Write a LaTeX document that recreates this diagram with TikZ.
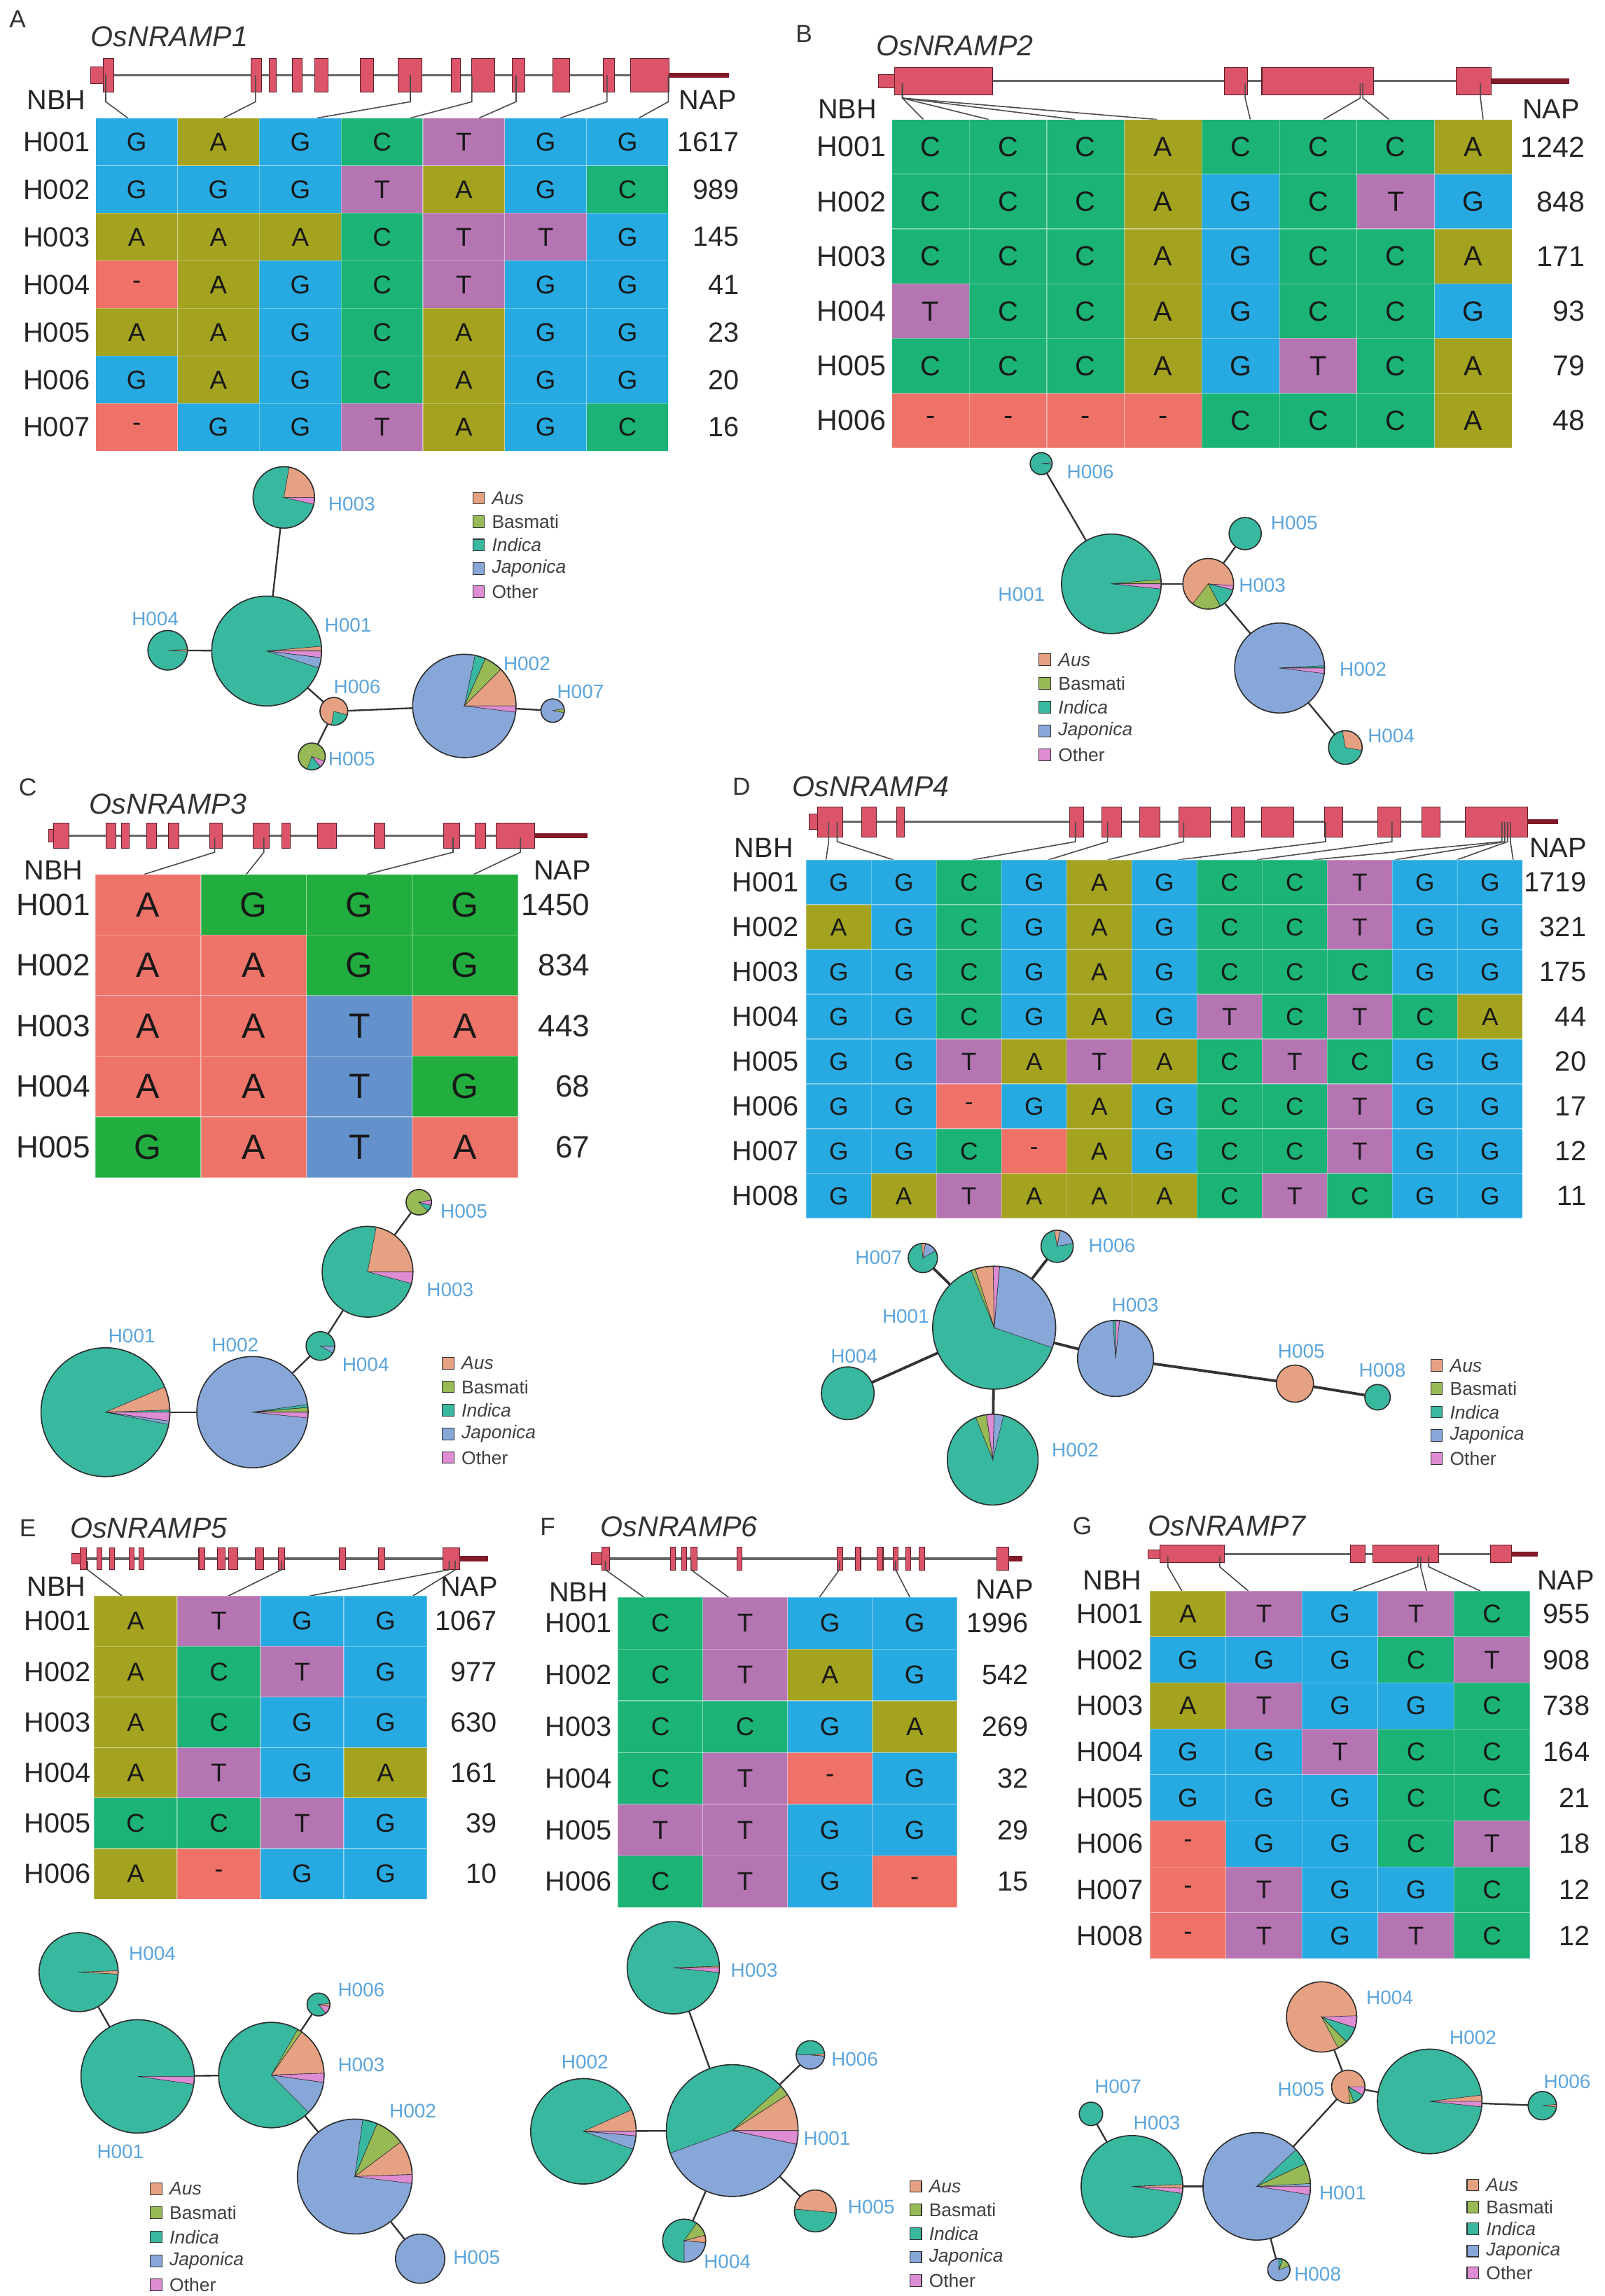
\documentclass[tikz,border=0pt]{standalone}
\usepackage{fontspec}
\setmainfont{Liberation Sans}
\usetikzlibrary{calc}

\definecolor{ntG}{RGB}{39,170,225}
\definecolor{ntA}{RGB}{164,163,32}
\definecolor{ntC}{RGB}{27,179,118}
\definecolor{ntT}{RGB}{181,117,179}
\definecolor{ntgap}{RGB}{239,114,104}
\definecolor{mkA}{RGB}{238,115,105}
\definecolor{mkG}{RGB}{34,174,62}
\definecolor{mkT}{RGB}{99,145,204}
\definecolor{colAus}{RGB}{229,161,130}
\definecolor{colBas}{RGB}{152,186,86}
\definecolor{colInd}{RGB}{57,184,160}
\definecolor{colJap}{RGB}{135,167,216}
\definecolor{colOth}{RGB}{222,140,212}
\definecolor{netblue}{RGB}{92,165,220}
\definecolor{exonred}{RGB}{219,84,105}
\definecolor{exonline}{RGB}{95,30,40}
\definecolor{utrdark}{RGB}{130,25,40}
\definecolor{pieedge}{RGB}{45,45,45}

\tikzset{
  p1 A/.style={fill=ntA}, p1 C/.style={fill=ntC}, p1 G/.style={fill=ntG},
  p1 T/.style={fill=ntT}, p1 -/.style={fill=ntgap},
  p3 A/.style={fill=mkA}, p3 G/.style={fill=mkG}, p3 T/.style={fill=mkT},
  cellline/.style={draw=white, draw opacity=0.3, line width=0.8pt},
  ntext/.style={font=\fontsize{25}{25}\selectfont, text=black!90, inner sep=0pt},
  rowlab/.style={font=\fontsize{27}{27}\selectfont, text=black!85, inner sep=0pt},
  tag/.style={font=\fontsize{24}{24}\selectfont, text=black!80, inner sep=0pt},
  genename/.style={font=\fontsize{28}{28}\selectfont\itshape, text=black!80, anchor=west, inner sep=0pt},
  intron/.style={draw=black!60, line width=2.2pt},
  utrend/.style={draw=utrdark, line width=5pt},
  exon/.style={fill=exonred, draw=exonline, line width=0.7pt},
  snpline/.style={draw=black!70, line width=1.1pt},
  hapnode/.style={circle, inner sep=0pt, outer sep=0pt},
  hapedge/.style={draw=black!80, line width=1.6pt},
  haplab/.style={font=\fontsize{19}{19}\selectfont, text=netblue, inner sep=0pt},
  legtext/.style={font=\fontsize{18}{18}\selectfont, text=black!75, anchor=west, inner sep=0pt},
}

% gene: start, end, y, 3' start, exon half height, 5' box end, exons
\newcommand{\genemodel}[7]{%
  \draw[intron] (#1,#3) -- (#2,#3);
  \draw[utrend] (#4,#3) -- (#2,#3);
  \filldraw[exon] (#1,{#3-#5/2}) rectangle (#6,{#3+#5/2});
  \foreach \xs/\xe in {#7}
    \filldraw[exon] (\xs,{#3-#5}) rectangle (\xe,{#3+#5});
}
\newcommand{\snplinks}[4]{%
  \foreach \xs/\xe in {#4}
    \draw[snpline] (\xs,#1) -- (\xs,#2) -- (\xe,#3);
}
% name, palette, x0, y0, cell w, cell h, label x, NAP x, rows
\newcommand{\snptable}[9]{%
  \foreach \row/\nap [count=\i] in {#9} {
    \foreach \snp [count=\j] in \row {
      \filldraw[#2 \snp, cellline] ({#3+(\j-1)*#5},{#4+(\i-1)*#6}) rectangle ++(#5,#6);
      \node[ntext] (#1-\i-\j) at ({#3+(\j-0.5)*#5},{#4+(\i-0.5)*#6}) {\snp};
    }
    \node[rowlab] (#1-r\i) at (#7,{#4+(\i-0.5)*#6}) {H00\i};
    \node[rowlab, anchor=east] (#1-n\i) at (#8,{#4+(\i-0.5)*#6}) {\nap};
  }%
}
\newcommand{\happie}[6]{%
  \node[hapnode, minimum size=#4 mm] (#1) at (#2,#3) {};
  \fill[#5] (#1.center) circle[radius=#4];
  \foreach \fromang/\toang/\slicecol in {#6}
    \filldraw[fill=\slicecol, draw=pieedge, line width=0.4pt] (#1.center) -- ++({-1*(\fromang)}:#4)
      arc[start angle={-1*(\fromang)}, end angle={-1*(\toang)}, radius=#4] -- cycle;
  \draw[pieedge, line width=1.1pt] (#1.center) circle[radius=#4];
}
\newcommand{\happlain}[5]{%
  \node[hapnode, minimum size=#4 mm] (#1) at (#2,#3) {};
  \filldraw[fill=#5, draw=pieedge, line width=1.1pt] (#1.center) circle[radius=#4];
}
\newcommand{\speclegend}[4]{%
  \foreach \legcol/\legname [count=\k] in {colAus/\textit{Aus}, colBas/Basmati, colInd/\textit{Indica}, colJap/\textit{Japonica}, colOth/Other} {
    \filldraw[fill=\legcol, draw=black!80, line width=0.7pt] ({#2-4},{#3+(\k-1)*#4-4}) rectangle ++(8,8);
    \node[legtext] (#1\k) at ({#2+9},{#3+(\k-1)*#4}) {\legname};
  }%
}

\begin{document}
\begin{tikzpicture}[x=0.5mm, y=-0.5mm]
\useasboundingbox (0,0) rectangle (1096,1568);
\fill[white] (0,0) rectangle (1096,1568);

% A
\node[tag] (A-tag) at (12,13) {A};
\node[genename] (A-name) at (62,25) {OsNRAMP1};
\genemodel{62}{498}{51.4}{457}{11.7}{70.5}{70.5/77.9, 171.2/178.5, 183.9/188.6, 199.7/206.4, 214.8/224.2, 246/255, 271.8/288, 308/314.5, 322/338, 350/358.5, 377.5/389, 412/419.5, 430.6/457}
\snplinks{51.4}{69.5}{80.6}{72.2/87.3, 174.5/152.7, 280.2/216.5, 322.2/280.2, 352.4/327.2, 414.5/382.6, 456.4/436.3}
\node[rowlab] (A-nbh) at (38.6,68.5) {NBH};
\node[rowlab] (A-nap) at (483.3,68.5) {NAP};
\snptable{tA}{p1}{65.4}{80.6}{55.86}{32.5}{38.6}{505}{{G,A,G,C,T,G,G}/1617, {G,G,G,T,A,G,C}/989, {A,A,A,C,T,T,G}/145, {-,A,G,C,T,G,G}/41, {A,A,G,C,A,G,G}/23, {G,A,G,C,A,G,G}/20, {-,G,G,T,A,G,C}/16}

\happie{A-h3}{193.8}{339.7}{21}{colInd}{0/80/colAus, -13/0/colOth}
\happie{A-h1}{182.1}{444.6}{37.5}{colInd}{0/5/colAus, -7/0/colOth, -18/-7/colJap}
\happie{A-h4}{114.5}{444.1}{13.5}{colInd}{-3/2/colAus}
\happie{A-h6}{228}{485.8}{9.5}{colAus}{-100/-15/colInd}
\happie{A-h5}{212.9}{516.6}{9.2}{colBas}{-50/-20/colOth, -110/-50/colInd}
\happie{A-h2}{317.1}{482.1}{35.3}{colJap}{66/78/colInd, 45/66/colBas, 0/45/colAus, -7/0/colOth}
\happie{A-h7}{377.4}{485.3}{8}{colJap}{-10/10/colBas}
\draw[hapedge] (A-h3) -- (A-h1);
\draw[hapedge] (A-h4) -- (A-h1);
\draw[hapedge] (A-h1) -- (A-h6);
\draw[hapedge] (A-h6) -- (A-h5);
\draw[hapedge] (A-h6) -- (A-h2);
\draw[hapedge] (A-h2) -- (A-h7);
\node[haplab] (A-l3) at (240.2,344.2) {H003};
\node[haplab] (A-l1) at (237.7,427.2) {H001};
\node[haplab] (A-l4) at (106,422.5) {H004};
\node[haplab] (A-l6) at (243.9,469.1) {H006};
\node[haplab] (A-l5) at (240.2,518.2) {H005};
\node[haplab] (A-l2) at (359.8,453.3) {H002};
\node[haplab] (A-l7) at (396.4,472.3) {H007};
\speclegend{A-k}{326.8}{340.2}{16}

% B
\node[tag] (B-tag) at (549,23) {B};
\node[genename] (B-name) at (598.3,31.2) {OsNRAMP2};
\genemodel{600.1}{1071.8}{55.4}{1018.2}{9.2}{611}{610.8/678, 836/852, 861.7/937.8, 994.2/1018.2}
\snplinks{57}{67}{81.6}{616.2/630.5, 616.2/675.2, 616.2/734.1, 616.2/790.2, 850.3/853.8, 928.8/903.8, 930.6/948.5, 1011/1012.8}
\node[rowlab] (B-nbh) at (578.7,74.5) {NBH};
\node[rowlab] (B-nap) at (1059.2,74.5) {NAP};
\begin{scope}[ntext/.append style={font=\fontsize{27}{27}\selectfont}, rowlab/.append style={font=\fontsize{28}{28}\selectfont}]
\snptable{tB}{p1}{609}{81.6}{52.94}{37.4}{581.5}{1082.5}{{C,C,C,A,C,C,C,A}/1242, {C,C,C,A,G,C,T,G}/848, {C,C,C,A,G,C,C,A}/171, {T,C,C,A,G,C,C,G}/93, {C,C,C,A,G,T,C,A}/79, {-,-,-,-,C,C,C,A}/48}
\end{scope}

\happie{B-h6}{711}{316.6}{7.5}{colInd}{-4/4/colJap}
\happie{B-h1}{758.9}{398.7}{34}{colInd}{0/5/colBas, -6/0/colOth}
\happie{B-h3}{825.1}{398.7}{17.3}{colAus}{-14/-4/colOth, -62/-14/colInd, -128/-62/colBas}
\happlain{B-h5}{850.3}{364.4}{11}{colInd}
\happie{B-h2}{873.8}{456.2}{30.7}{colJap}{0/3/colInd, -7/0/colOth}
\happie{B-h4}{918.7}{510.5}{11.5}{colInd}{-10/100/colAus}
\draw[hapedge] (B-h6) -- (B-h1);
\draw[hapedge] (B-h1) -- (B-h3);
\draw[hapedge] (B-h3) -- (B-h5);
\draw[hapedge] (B-h3) -- (B-h2);
\draw[hapedge] (B-h2) -- (B-h4);
\node[haplab] (B-l6) at (744.6,322.1) {H006};
\node[haplab] (B-l5) at (883.8,357.2) {H005};
\node[haplab] (B-l1) at (697.6,405.9) {H001};
\node[haplab] (B-l3) at (862,399.5) {H003};
\node[haplab] (B-l2) at (930.8,457) {H002};
\node[haplab] (B-l4) at (950,502.5) {H004};
\speclegend{B-k}{713.6}{450.6}{16.2}

% C
\node[tag] (C-tag) at (19,537.5) {C};
\node[genename] (C-name) at (61,548.9) {OsNRAMP3};
\genemodel{33.3}{401.4}{570.6}{364.9}{8.5}{37}{36.5/47, 72.3/79.3, 83.1/88.2, 100/107, 114.9/122.2, 143.4/151.7, 172.9/184, 192.6/198.3, 216.7/230, 255.4/262.7, 303/314, 324.3/331.6, 338.9/364.9}
\snplinks{572}{582}{597.1}{146.6/98.4, 180.2/168.2, 309.4/250.7, 355.4/323.6}
\node[rowlab] (C-nbh) at (36.5,594.3) {NBH};
\node[rowlab] (C-nap) at (384,594.3) {NAP};
\begin{scope}[ntext/.append style={font=\fontsize{34}{34}\selectfont}, rowlab/.append style={font=\fontsize{30}{30}\selectfont}]
\snptable{tC}{p3}{65}{597.1}{72.2}{41.4}{36.5}{403}{{A,G,G,G}/1450, {A,A,G,G}/834, {A,A,T,A}/443, {A,A,T,G}/68, {G,A,T,A}/67}
\end{scope}

\happie{C-h5}{286}{821}{8.7}{colBas}{-15/10/colOth, -45/-15/colInd}
\happie{C-h3}{251}{868.5}{31}{colInd}{0/79/colAus, -15/0/colOth}
\happie{C-h4}{218.8}{919.2}{9.8}{colInd}{-30/0/colJap}
\happie{C-h2}{172.4}{964.4}{38}{colJap}{0/5/colBas, 5/8/colInd, -6/0/colOth}
\happie{C-h1}{72}{964.4}{44}{colInd}{2/23/colAus, -8/0/colOth, -11/-8/colJap}
\draw[hapedge] (C-h5) -- (C-h3);
\draw[hapedge] (C-h3) -- (C-h4);
\draw[hapedge] (C-h4) -- (C-h2);
\draw[hapedge] (C-h2) -- (C-h1);
\node[haplab] (C-l5) at (316.8,827.3) {H005};
\node[haplab] (C-l3) at (307.4,880.7) {H003};
\node[haplab] (C-l4) at (249.7,931.8) {H004};
\node[haplab] (C-l2) at (160.6,918.5) {H002};
\node[haplab] (C-l1) at (90,912.2) {H001};
\speclegend{C-k}{306.1}{931}{16.1}

% D
\node[tag] (D-tag) at (506.3,537.4) {D};
\node[genename] (D-name) at (540.9,537.4) {OsNRAMP4};
\genemodel{552.4}{1064}{561.3}{1043}{10.4}{558.2}{558.2/575.5, 588.2/598.6, 612.1/617.8, 730.5/739.8, 752.5/766, 778.2/792.1, 805.2/826.7, 841/849.8, 861.3/883.3, 904.4/917.1, 941/956.4, 971/983.3, 1000.6/1043}
\snplinks{561.3}{574.8}{587.2}{565.9/564, 571.7/610.1, 734.4/664, 756.3/715.9, 808.3/756.3, 905.2/804.4, 950.6/858.3, 1025.6/896.7, 1027.5/952.5, 1029.5/994.8, 1031.4/1033.3}
\node[rowlab] (D-nbh) at (521.6,579) {NBH};
\node[rowlab] (D-nap) at (1064,579) {NAP};
\begin{scope}[ntext/.append style={font=\fontsize{24}{24}\selectfont}]
\snptable{tD}{p1}{550.5}{587.2}{44.48}{30.6}{522.8}{1083.3}{{G,G,C,G,A,G,C,C,T,G,G}/1719, {A,G,C,G,A,G,C,C,T,G,G}/321, {G,G,C,G,A,G,C,C,C,G,G}/175, {G,G,C,G,A,G,T,C,T,C,A}/44, {G,G,T,A,T,A,C,T,C,G,G}/20, {G,G,-,G,A,G,C,C,T,G,G}/17, {G,G,C,-,A,G,C,C,T,G,G}/12, {G,A,T,A,A,A,C,T,C,G,G}/11}
\end{scope}

\happie{D-h7}{630.2}{859.1}{10}{colInd}{30/80/colJap, 80/95/colAus}
\happie{D-h6}{721.9}{851.1}{11}{colInd}{10/80/colJap, 80/100/colAus}
\happie{D-h1}{678.9}{906.7}{42}{colInd}{-19/85/colJap, 85/91/colOth, 91/108/colAus, 108/112/colBas}
\happie{D-h3}{761.8}{927.7}{26}{colJap}{84/90/colOth, 90/94/colInd}
\happlain{D-h5}{884.3}{944.9}{12.7}{colAus}
\happlain{D-h8}{940.7}{954.2}{8.7}{colInd}
\happlain{D-h4}{578.9}{951.5}{18}{colInd}
\happie{D-h2}{677.9}{996.8}{31}{colInd}{98/112/colBas, 88/98/colOth, 76/88/colJap}
\begin{scope}[hapedge/.append style={line width=2.6pt}]
\draw[hapedge] (D-h7) -- (D-h1);
\draw[hapedge] (D-h6) -- (D-h1);
\draw[hapedge] (D-h1) -- (D-h3);
\draw[hapedge] (D-h1) -- (D-h4);
\draw[hapedge] (D-h1) -- (D-h2);
\draw[hapedge] (D-h3) -- (D-h5);
\draw[hapedge] (D-h5) -- (D-h8);
\end{scope}
\node[haplab] (D-l7) at (600,858.6) {H007};
\node[haplab] (D-l6) at (759.4,850.6) {H006};
\node[haplab] (D-l1) at (618.5,899.1) {H001};
\node[haplab] (D-l3) at (775.2,891.2) {H003};
\node[haplab] (D-l5) at (888.6,922.9) {H005};
\node[haplab] (D-l8) at (944,935.7) {H008};
\node[haplab] (D-l4) at (583.3,926.1) {H004};
\node[haplab] (D-l2) at (734.3,990.5) {H002};
\speclegend{D-k}{981}{932.5}{15.9}

% E
\node[tag] (E-tag) at (19,1043.6) {E};
\node[genename] (E-name) at (47.8,1043.6) {OsNRAMP5};
\genemodel{49.1}{333.1}{1064.4}{313.9}{7.5}{54.7}{54.7/58.9, 66.2/69.6, 74.7/78.2, 88.4/91.8, 94.8/98.2, 135.8/140.1, 148.6/153.8, 155.9/162.3, 174.3/180.2, 190/194.3, 231.9/236.2, 258.4/262.7, 302.4/313.9}
\snplinks{1066}{1072}{1089.9}{59.8/83.3, 192.2/155.9, 306.7/211.4, 310.9/281.9}
\node[rowlab] (E-nbh) at (38.4,1083.3) {NBH};
\node[rowlab] (E-nap) at (320.3,1083.3) {NAP};
\snptable{tE}{p1}{64.1}{1089.9}{56.9}{34.5}{39.3}{339.5}{{A,T,G,G}/1067, {A,C,T,G}/977, {A,C,G,G}/630, {A,T,G,A}/161, {C,C,T,G}/39, {A,-,G,G}/10}

\happie{E-h4}{53.7}{1346.8}{27}{colInd}{-3/2/colAus}
\happie{E-h1}{94}{1418}{38.7}{colInd}{-8/0/colOth}
\happie{E-h3}{185.3}{1417.1}{36}{colInd}{2/55/colAus, 55/60/colBas, -45/-8/colJap, -8/2/colOth}
\happie{E-h6}{217.5}{1368.9}{7.8}{colInd}{-50/-10/colOth, -10/5/colAus}
\happie{E-h2}{242.3}{1486.4}{39.2}{colJap}{67/82/colInd, 37/67/colBas, 2/37/colAus, -7/2/colOth}
\happlain{E-h5}{286.9}{1542.5}{16.8}{colJap}
\draw[hapedge] (E-h4) -- (E-h1);
\draw[hapedge] (E-h1) -- (E-h3);
\draw[hapedge] (E-h3) -- (E-h6);
\draw[hapedge] (E-h3) -- (E-h2);
\draw[hapedge] (E-h2) -- (E-h5);
\node[haplab] (E-l4) at (104,1334.1) {H004};
\node[haplab] (E-l1) at (82.2,1469.2) {H001};
\node[haplab] (E-l3) at (246.7,1410) {H003};
\node[haplab] (E-l6) at (246.7,1358.8) {H006};
\node[haplab] (E-l2) at (281.9,1441.9) {H002};
\node[haplab] (E-l5) at (325.5,1541.7) {H005};
\speclegend{E-k}{106.7}{1494.8}{16.4}

% F
\node[tag] (F-tag) at (374,1042.6) {F};
\node[genename] (F-name) at (410,1042.6) {OsNRAMP6};
\genemodel{403.6}{698.3}{1064.4}{688.8}{8}{411}{410.9/416.4, 457.9/461.2, 465.5/469, 471.9/476.2, 503.1/506.5, 571.5/575.7, 584.3/587.7, 598.8/603, 609.9/613.3, 618.4/621.9, 627.8/631.3, 680.7/688.8}
\snplinks{1066}{1072}{1090.9}{413.4/439.9, 471.9/497.6, 573.2/559.5, 611.6/621.4}
\node[rowlab] (F-nbh) at (395.1,1087.1) {NBH};
\node[rowlab] (F-nap) at (686.1,1085.5) {NAP};
\snptable{tF}{p1}{422}{1090.9}{57.9}{35.3}{395}{702.4}{{C,T,G,G}/1996, {C,T,A,G}/542, {C,C,G,A}/269, {C,T,-,G}/32, {T,T,G,G}/29, {C,T,G,-}/15}

\happie{F-h3}{459.8}{1343.8}{31.5}{colInd}{-6/0/colOth, 0/2/colAus}
\happie{F-h2}{398.4}{1455.5}{36}{colInd}{0/24/colAus, -5/0/colOth, -20/-5/colJap}
\happie{F-h1}{500}{1455}{45}{colInd}{0/33/colAus, 33/42/colBas, 200/348/colJap, 348/360/colOth}
\happie{F-h6}{553.4}{1403.3}{9.7}{colInd}{-180/-5/colJap, -5/5/colAus}
\happie{F-h5}{556.8}{1509.9}{14.3}{colInd}{-5/175/colAus}
\happie{F-h4}{467.2}{1530.2}{14.7}{colInd}{-90/-5/colJap, -5/15/colAus, 15/55/colBas}
\draw[hapedge] (F-h3) -- (F-h1);
\draw[hapedge] (F-h2) -- (F-h1);
\draw[hapedge] (F-h1) -- (F-h6);
\draw[hapedge] (F-h1) -- (F-h5);
\draw[hapedge] (F-h1) -- (F-h4);
\node[haplab] (F-l3) at (515,1345.6) {H003};
\node[haplab] (F-l2) at (399.4,1408.3) {H002};
\node[haplab] (F-l1) at (564.8,1460.4) {H001};
\node[haplab] (F-l6) at (583.7,1406.5) {H006};
\node[haplab] (F-l5) at (595,1507.2) {H005};
\node[haplab] (F-l4) at (496.7,1544.3) {H004};
\speclegend{F-k}{625.3}{1493.1}{16.1}

% G
\node[tag] (G-tag) at (739.1,1042.2) {G};
\node[genename] (G-name) at (784,1042.2) {OsNRAMP7};
\genemodel{784}{1050.3}{1061.3}{1032.1}{6}{792.1}{792.1/836.1, 922/932.1, 937.5/982.4, 1017.7/1032.1}
\snplinks{1063}{1070}{1086.5}{797.5/807.1, 832.9/852.4, 968.2/923.9, 970.1/974.2, 975.6/1010.9}
\node[rowlab] (G-nbh) at (759.5,1079.4) {NBH};
\node[rowlab] (G-nap) at (1069.3,1079.4) {NAP};
\snptable{tG}{p1}{785.3}{1086.5}{51.9}{31.4}{758.1}{1085.7}{{A,T,G,T,C}/955, {G,G,G,C,T}/908, {A,T,G,G,C}/738, {G,G,T,C,C}/164, {G,G,G,C,C}/21, {-,G,G,C,T}/18, {-,T,G,G,C}/12, {-,T,G,T,C}/12}

\happie{G-h4}{902.5}{1377.4}{24}{colAus}{-18/2/colOth, -45/-18/colInd, -62/-45/colBas}
\happie{G-h5}{920.7}{1425.1}{11.4}{colAus}{-30/0/colOth, -70/-30/colInd, -85/-70/colBas}
\happie{G-h2}{976.3}{1435.1}{35.7}{colInd}{0/7/colAus, -6/0/colOth}
\happie{G-h6}{1053.2}{1438}{9.7}{colInd}{-5/5/colAus}
\happlain{G-h7}{745}{1443.6}{8}{colInd}
\happie{G-h3}{773}{1493.1}{34.7}{colInd}{-8/-2/colOth, -2/2/colAus}
\happie{G-h1}{858.2}{1493.1}{36.7}{colJap}{25/43/colInd, 3/25/colBas, -9/0/colOth}
\happie{G-h8}{873.3}{1550}{7.6}{colJap}{20/70/colBas, 70/90/colInd}
\draw[hapedge] (G-h4) -- (G-h5);
\draw[hapedge] (G-h5) -- (G-h2);
\draw[hapedge] (G-h5) -- (G-h1);
\draw[hapedge] (G-h2) -- (G-h6);
\draw[hapedge] (G-h1) -- (G-h3);
\draw[hapedge] (G-h3) -- (G-h7);
\draw[hapedge] (G-h1) -- (G-h8);
\node[haplab] (G-l4) at (949,1364.1) {H004};
\node[haplab] (G-l5) at (888.5,1426.8) {H005};
\node[haplab] (G-l2) at (1005.9,1391.5) {H002};
\node[haplab] (G-l6) at (1070.2,1421.5) {H006};
\node[haplab] (G-l7) at (763.5,1425.1) {H007};
\node[haplab] (G-l3) at (790,1449.8) {H003};
\node[haplab] (G-l1) at (916.9,1497.5) {H001};
\node[haplab] (G-l8) at (899.8,1553.1) {H008};
\speclegend{G-k}{1005.8}{1492.2}{15}
\end{tikzpicture}
\end{document}
